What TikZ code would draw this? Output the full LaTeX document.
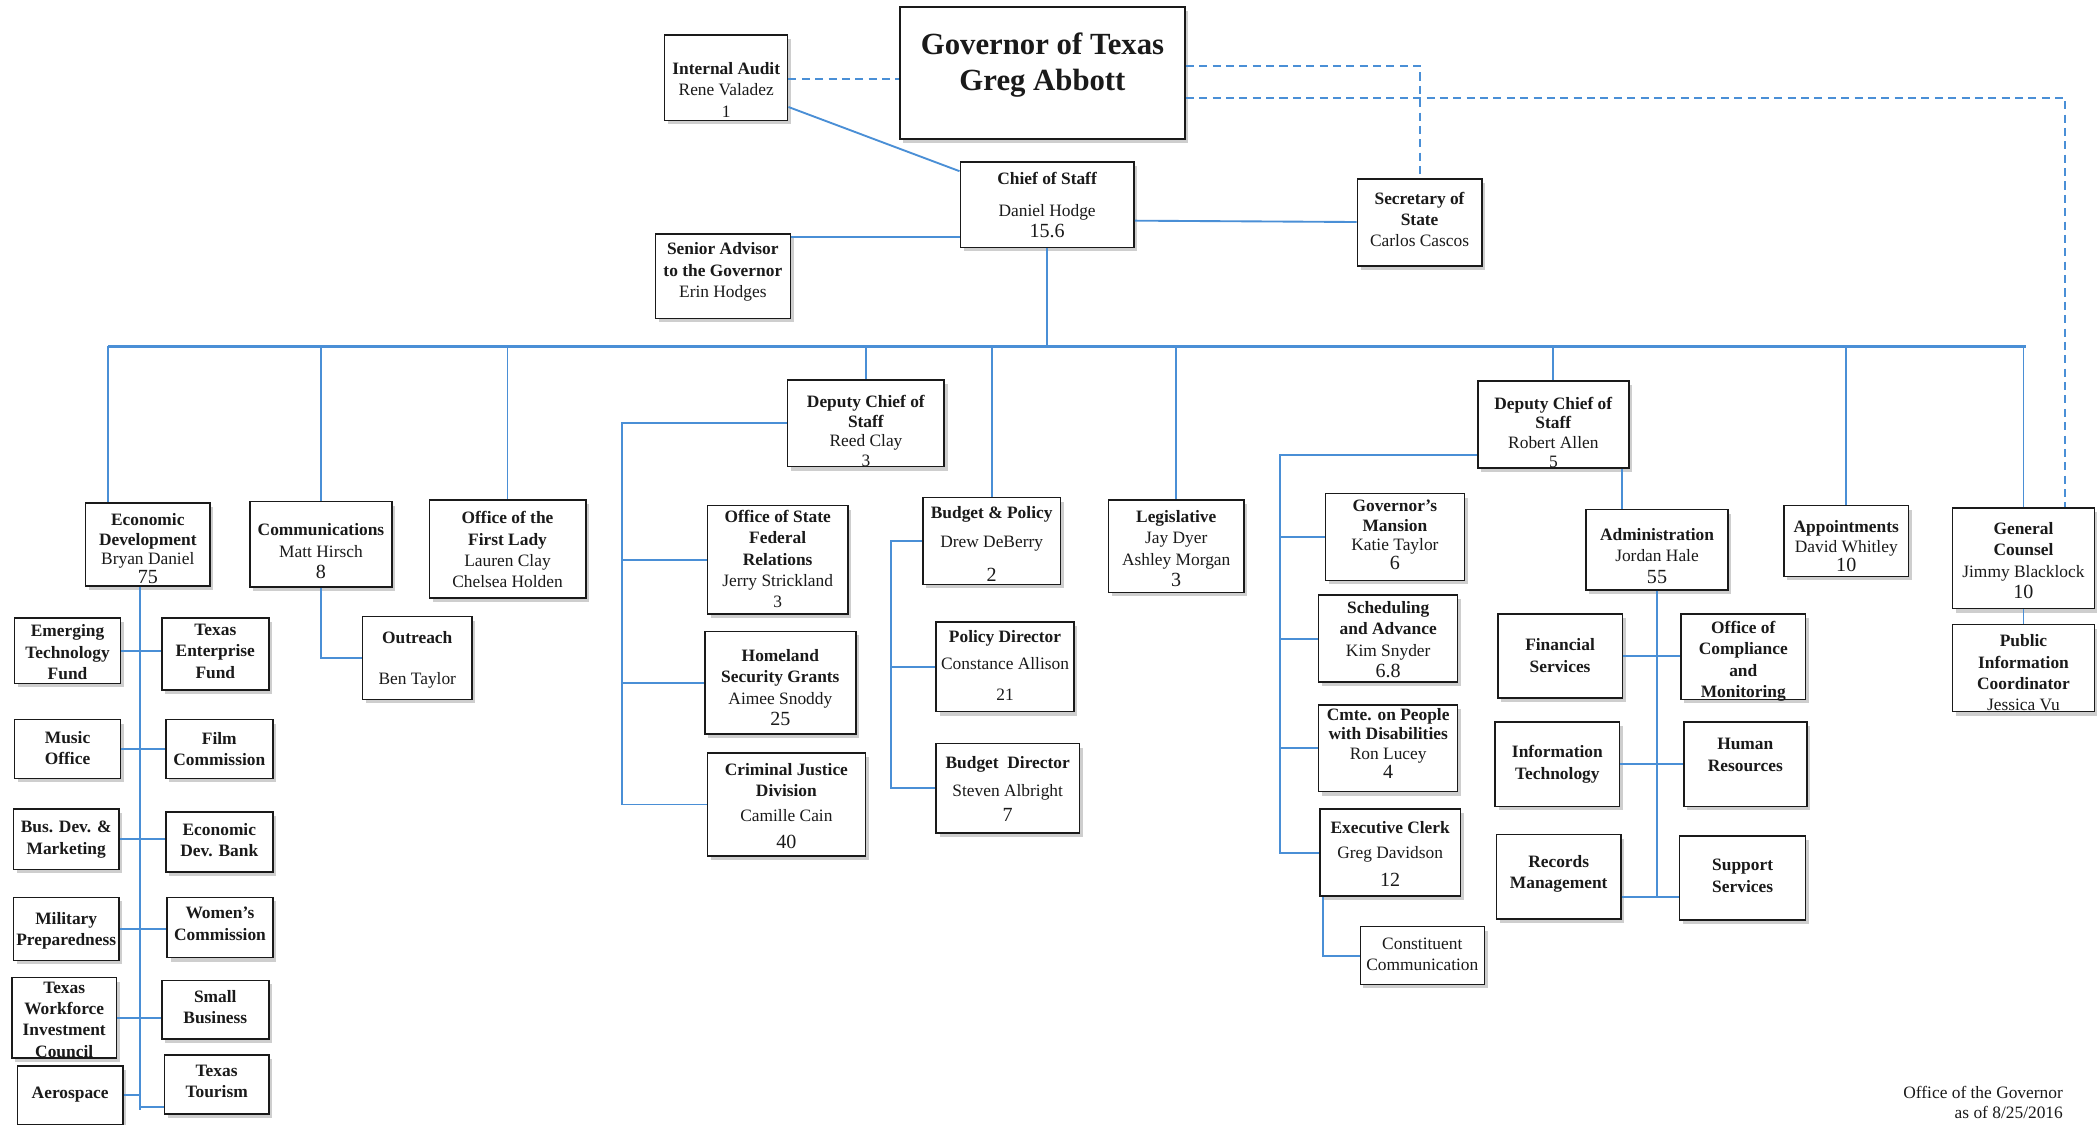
\documentclass[tikz,border=0pt]{standalone}
\usepackage{fontspec}
\setmainfont{Liberation Serif}
\usetikzlibrary{calc,fit,shadows}
\definecolor{ink}{HTML}{1A1A1A}
\definecolor{linkblue}{HTML}{4A8FD6}
% head count in a slightly larger size
\newcommand{\hc}[1]{{\fontsize{15}{15}\selectfont #1}}
% stacked box text, lowered by #1 (pt) from the box centre
\newcommand{\btext}[2][0]{\raisebox{-\dimexpr 3.4pt+#1pt\relax}[0pt][0pt]{%
  \begin{tabular}{@{}c@{}}#2\end{tabular}}}

\begin{document}
\begin{tikzpicture}[x=1pt,y=-1pt,
  box/.style={draw=ink,line width=1.1pt,fill=white,inner sep=0pt,
              text=ink,font=\fontsize{13}{16}\selectfont,
              drop shadow={shadow xshift=2.5pt,shadow yshift=-3pt,fill=black!35,opacity=.55}},
  tight/.style={font=\fontsize{13}{14.5}\selectfont},
  unit/.style={box,font=\fontsize{13}{16}\selectfont\bfseries},
  link/.style={draw=linkblue,line width=1.4pt},
  bus/.style={draw=linkblue,line width=2pt},
  dashlink/.style={draw=linkblue,line width=1.5pt,dash pattern=on 6pt off 4pt}
]
\useasboundingbox (0,0) rectangle (1568,841);
\fill[white] (0,0) rectangle (1568,841);

% top of the chart
\node[box,line width=1.4pt,font=\fontsize{23}{27}\selectfont\bfseries,
      fit={(673,5)(886,104)}] (gov) {\btext[-3]{Governor of Texas\\Greg Abbott}};
\node[box,fit={(497,26)(589,90)}] (audit) {\btext[10]{\textbf{Internal Audit}\\Rene Valadez\\1}};
\node[box,fit={(718,121)(848,185)}] (chief) {\btext[1]{\textbf{Chief of Staff}\\[8pt]Daniel Hodge\\\hc{15.6}}};
\node[box,fit={(1015,134)(1108,199)}] (sos) {\btext[-1.5]{\textbf{Secretary of}\\\textbf{State}\\Carlos Cascos}};
\node[box,fit={(490,175)(591,238)}] (senior) {\btext[-3.5]{\textbf{Senior Advisor}\\\textbf{to the Governor}\\Erin Hodges}};

% divisions under the bus
\node[box,tight,fit={(64,376)(157,438)}] (econ) {\btext[4.5]{\textbf{Economic}\\\textbf{Development}\\Bryan Daniel\\\hc{75}}};
\node[box,fit={(187,375)(293,439)}] (comm) {\btext[6]{\textbf{Communications}\\Matt Hirsch\\\hc{8}}};
\node[box,fit={(321,374)(438,447)}] (lady) {\btext[1.5]{\textbf{Office of the}\\\textbf{First Lady}\\Lauren Clay\\Chelsea Holden}};
\node[box,fit={(271,461)(353,523)}] (outreach) {\btext[1]{\textbf{Outreach}\\[15pt]Ben Taylor}};
\node[box,tight,fit={(589,284)(706,349)}] (dcsA) {\btext[7]{\textbf{Deputy Chief of}\\\textbf{Staff}\\Reed Clay\\3}};
\node[box,fit={(529,378)(634,459)}] (osfr) {\btext[0.5]{\textbf{Office of State}\\\textbf{Federal}\\\textbf{Relations}\\Jerry Strickland\\3}};
\node[box,fit={(527,472)(640,549)}] (homeland) {\btext[4.5]{\textbf{Homeland}\\\textbf{Security Grants}\\Aimee Snoddy\\\hc{25}}};
\node[box,fit={(529,563)(647,640)}] (cjd) {\btext[2]{\textbf{Criminal Justice}\\\textbf{Division}\\[3pt]Camille Cain\\[4pt]\hc{40}}};
\node[box,fit={(690,372)(793,437)}] (budget) {\btext[3]{\textbf{Budget \& Policy}\\[6pt]Drew DeBerry\\[9pt]\hc{2}}};
\node[box,fit={(700,465)(803,532)}] (pdir) {\btext[0]{\textbf{Policy Director}\\[4pt]Constance Allison\\[7pt]21}};
\node[box,fit={(700,556)(807,623)}] (bdir) {\btext[1.5]{\textbf{Budget\ \ Director}\\[5pt]Steven Albright\\[3pt]\hc{7}}};
\node[box,fit={(829,374)(930,443)}] (legis) {\btext[2.5]{\textbf{Legislative}\\Jay Dyer\\Ashley Morgan\\\hc{3}}};
\node[box,tight,fit={(1105,285)(1218,350)}] (dcsB) {\btext[7]{\textbf{Deputy Chief of}\\\textbf{Staff}\\Robert Allen\\5}};
\node[box,tight,fit={(991,369)(1095,434)}] (mansion) {\btext[-0.5]{\textbf{Governor’s}\\\textbf{Mansion}\\Katie Taylor\\\hc{6}}};
\node[box,fit={(986,445)(1090,510)}] (sched) {\btext[1.5]{\textbf{Scheduling}\\\textbf{and Advance}\\Kim Snyder\\\hc{6.8}}};
\node[box,tight,fit={(986,527)(1090,592)}] (cmte) {\btext[-2.5]{\textbf{Cmte. on People}\\\textbf{with Disabilities}\\Ron Lucey\\\hc{4}}};
\node[box,fit={(987,605)(1092,670)}] (exec) {\btext[2]{\textbf{Executive Clerk}\\[2pt]Greg Davidson\\[5pt]\hc{12}}};
\node[box,line width=.9pt,fit={(1017,693)(1110,736)}] (cc) {\btext[-0.5]{Constituent\\Communication}};
\node[box,fit={(1186,381)(1292,441)}] (admin) {\btext[5.5]{\textbf{Administration}\\Jordan Hale\\\hc{55}}};
\node[unit,fit={(1120,459)(1213,522)}] (fin) {\btext[0.5]{Financial\\Services}};
\node[unit,fit={(1257,459)(1350,523)}] (comp) {\btext[3]{Office of\\Compliance\\and\\Monitoring}};
\node[unit,fit={(1118,540)(1211,603)}] (it) {\btext[-0.5]{Information\\Technology}};
\node[unit,fit={(1259,540)(1351,603)}] (hr) {\btext[-6.5]{Human\\Resources}};
\node[unit,fit={(1119,624)(1212,687)}] (recm) {\btext[-2.5]{Records\\Management}};
\node[unit,fit={(1256,625)(1350,688)}] (supp) {\btext[-1]{Support\\Services}};
\node[box,tight,fit={(1334,378)(1427,431)}] (appt) {\btext[5]{\textbf{Appointments}\\David Whitley\\\hc{10}}};
\node[box,fit={(1460,380)(1566,455)}] (gc) {\btext[2.5]{\textbf{General}\\\textbf{Counsel}\\Jimmy Blacklock\\\hc{10}}};
\node[box,fit={(1460,467)(1566,532)}] (pic) {\btext[4.5]{\textbf{Public}\\\textbf{Information}\\\textbf{Coordinator}\\Jessica Vu}};

% economic development units
\node[unit,fit={(11,462)(90,511)}] (etf) {\btext[2]{Emerging\\Technology\\Fund}};
\node[unit,fit={(121,462)(201,516)}] (tef) {\btext[-1.5]{Texas\\Enterprise\\Fund}};
\node[unit,fit={(11,538)(90,582)}] (music) {\btext{Music\\Office}};
\node[unit,fit={(124,538)(204,582)}] (film) {\btext[1]{Film\\Commission}};
\node[unit,fit={(10,605)(89,650)}] (busdev) {\btext[-0.5]{Bus. Dev. \&\\Marketing}};
\node[unit,fit={(124,607)(204,652)}] (bank) {\btext[-0.5]{Economic\\Dev. Bank}};
\node[unit,fit={(10,671)(89,718)}] (military) {\btext[1]{Military\\Preparedness}};
\node[unit,fit={(125,671)(204,716)}] (women) {\btext[-2]{Women’s\\Commission}};
\node[unit,fit={(9,731)(87,791)}] (twic) {\btext[2]{Texas\\Workforce\\Investment\\Council}};
\node[unit,fit={(121,733)(201,777)}] (small) {\btext[-1]{Small\\Business}};
\node[unit,fit={(13,797)(92,841)}] (aero) {\btext[-1]{Aerospace}};
\node[unit,fit={(123,789)(201,833)}] (tour) {\btext[-2]{Texas\\Tourism}};

\node[align=right,anchor=south east,text=ink,font=\fontsize{13}{15}\selectfont] (stamp) at (1546,840)
  {Office of the Governor\\as of 8/25/2016};

% connectors
\coordinate (busL) at (81,259);
\coordinate (busR) at (1515,259);
\draw[bus] (busL) -- (busR);
\draw[link] (chief.south) -- (chief.south |- busL);
\draw[link] (busL) -- (busL |- econ.north);
\foreach \n in {comm,lady,dcsA,budget,legis,dcsB,appt,gc}
  \draw[link] (\n.north |- busL) -- (\n.north);

\draw[dashlink] (audit.east |- 0,59) -- (gov.west |- 0,59);
\draw[link] (audit.east |- 0,80) -- (chief.west |- 0,128);
\draw[link] (senior.east |- 0,177) -- (chief.west |- 0,177);
\draw[link] (chief.east |- 0,165) -- (sos.west |- 0,166);
\coordinate (gcdash) at (1544,0);
\draw[dashlink] (gov.east |- 0,49) -| (sos.north);
\draw[dashlink] (gov.east |- 0,73) -| (gcdash |- gc.north);

\draw[link] (comm.south) |- (outreach.west);

\coordinate (spineA) at (465,316);
\draw[link] (dcsA.west |- spineA) -- (spineA) |- (cjd.west);
\draw[link] (spineA |- osfr.west) -- (osfr.west);
\draw[link] (spineA |- homeland.west) -- (homeland.west);

\coordinate (spineB) at (666,0);
\draw[link] (budget.west) -- (spineB |- budget.west) |- (bdir.west);
\draw[link] (spineB |- pdir.west) -- (pdir.west);

\coordinate (spineC) at (957,340);
\draw[link] (dcsB.west |- spineC) -- (spineC) |- (exec.west);
\foreach \n in {mansion,sched,cmte}
  \draw[link] (spineC |- \n.west) -- (\n.west);
\coordinate (ccx) at (989,0);
\draw[link] (ccx |- exec.south) |- (cc.west);

\coordinate (adm) at (1213,0);
\draw[link] (adm |- dcsB.south) -- (adm |- admin.north);
\draw[link] (admin.south) -- (admin.south |- 0,671);
\draw[link] (fin.east) -- (comp.west |- fin.east);
\draw[link] (it.east) -- (hr.west |- it.east);
\draw[link] (recm.east |- 0,671) -- (supp.west |- 0,671);

\draw[link] (gc.south) -- (pic.north);

\coordinate (spineE) at (105,0);
\draw[link] (spineE |- econ.south) -- (spineE |- 0,830);
\draw[link] (etf.east) -- (tef.west |- etf.east);
\draw[link] (music.east) -- (film.west |- music.east);
\draw[link] (busdev.east) -- (bank.west |- busdev.east);
\draw[link] (military.east) -- (women.west |- military.east);
\draw[link] (twic.east) -- (small.west |- twic.east);
\draw[link] (aero.east) -- (spineE |- aero.east);
\draw[link] (spineE |- 0,828) -- (tour.west |- 0,828);
\end{tikzpicture}
\end{document}
